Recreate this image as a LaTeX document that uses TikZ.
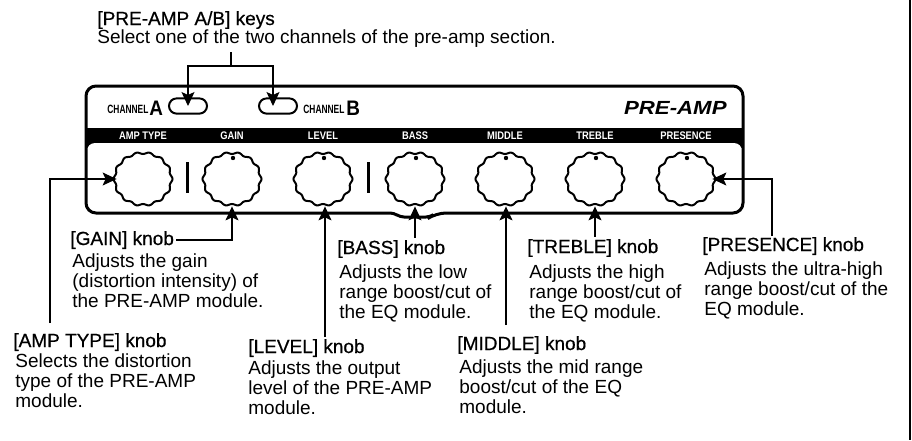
\documentclass[tikz,border=0pt]{standalone}
\usepackage{fontspec}
\setmainfont{Liberation Sans}
\newfontfamily\headfont[FakeBold=0.6]{Liberation Sans}
\usetikzlibrary{positioning,calc,arrows.meta}

\begin{document}
\begin{tikzpicture}[x=0.5pt,y=-0.5pt,
    hd/.style={font=\headfont\fontsize{9.5}{10}\selectfont,inner sep=1pt,anchor=base west},
    desc/.style={font=\fontsize{9.5}{10}\selectfont,align=left,inner sep=0pt},
    arr/.style={line width=0.6pt,-{Stealth[length=7pt,width=6.5pt,inset=1.5pt]}},
    knob/.style={minimum width=26pt,minimum height=27pt,inner sep=0pt},
    tag/.style={text=white,font=\bfseries\fontsize{5.5}{6}\selectfont,inner sep=0pt},
    key/.style={draw,line width=1pt,rounded corners=3.8pt,minimum width=19pt,minimum height=7.6pt,inner sep=0pt}]

\useasboundingbox (0,0) rectangle (912,440);
\draw[line width=0.6pt] (910,0) -- (910,440);

% panel
\fill (86,128) rectangle (743,148);
\fill[white,rounded corners=4pt] (87,143) rectangle (742,212);
\draw[line width=1.5pt,rounded corners=5pt] (86,86) -- (743,86) -- (743,213) -- (436,213)
    [rounded corners=2pt] -- (430,217) -- (400,217) -- (394,213)
    [rounded corners=5pt] -- (86,213) -- cycle;
\draw[line width=1.5pt] (187,162) -- (187,193) (368,162) -- (368,193);

\foreach \nm/\cx/\lbl in {amptype/143/AMP TYPE,gain/232/GAIN,level/323/LEVEL,bass/415/BASS,
    middle/505/MIDDLE,treble/595/TREBLE,presence/686/PRESENCE}{
  \node[knob] (\nm) at (\cx,179) {};
  \draw[line width=1pt,shift={(\cx,179)}] plot[smooth cycle,domain=0:357,samples=120]
    ({(28.5+1*cos(14*\x))*cos(\x)},{(26+1*cos(14*\x))*sin(\x)});
  \node[tag] at (\cx,136) {\scalebox{0.85}[1]{\lbl}};
}
\foreach \nm in {gain,level,bass,middle,treble,presence}
  \fill ([shift={(1,-21)}]\nm.center) circle (2.2);

% channel keys
\node[anchor=base west,inner sep=0pt,font=\bfseries\fontsize{6}{6}\selectfont] (chA) at (107,113) {\scalebox{0.7}[1]{CHANNEL}};
\node[anchor=base west,inner sep=0pt,font=\bfseries\fontsize{10.5}{10.5}\selectfont] (chAbig) at (149,115) {\scalebox{0.9}[1]{A}};
\node[key] (keyA) at (188,106) {};
\node[key] (keyB) at (278,106) {};
\node[anchor=base west,inner sep=0pt,font=\bfseries\fontsize{6}{6}\selectfont] (chB) at (303,113) {\scalebox{0.7}[1]{CHANNEL}};
\node[anchor=base west,inner sep=0pt,font=\bfseries\fontsize{10.5}{10.5}\selectfont] (chBbig) at (346,115) {\scalebox{0.9}[1]{B}};
\node[anchor=base east,inner sep=0pt,font=\bfseries\itshape\fontsize{9.5}{9.5}\selectfont] (title) at (727,114) {\scalebox{1.17}[1]{PRE-AMP}};

% annotations
\node[hd] (keyshd) at (95,25) {[PRE-AMP A/B] keys};
\node[desc,anchor=base west] (keysdesc) at (97,43) {Select one of the two channels of the pre-amp section.};
\coordinate (keytap) at (231,52);
\coordinate (keyjoin) at (231,66);
\draw[line width=0.6pt] (keytap) -- (keyjoin);
\draw[arr] (keyjoin) -| (keyA.center);
\draw[arr] (keyjoin) -| ([xshift=-2.5pt]keyB.center);

\node[hd] (gainhd) at (68,245) {[GAIN] knob};
\node[desc,below right=1.1pt and 2pt of gainhd.south west] {Adjusts the gain\\(distortion intensity) of\\the PRE-AMP module.};
\draw[arr] (gainhd.east) -| (gain.south);

\node[hd] (amptypehd) at (11,347) {[AMP TYPE] knob};
\node[desc,below right=0pt and 2pt of amptypehd.south west] {Selects the distortion\\type of the PRE-AMP\\module.};
\coordinate (ampline) at (50,323);
\draw[arr] (ampline) |- (amptype.west);

\node[hd] (levelhd) at (246,353) {[LEVEL] knob};
\node[desc,below right=0.6pt and 1pt of levelhd.south west] {Adjusts the output\\level of the PRE-AMP\\module.};
\coordinate (levelline) at (325,337);
\draw[arr] (levelline) -- (levelline |- level.south);

\node[hd] (basshd) at (335,254) {[BASS] knob};
\node[desc,below right=2.1pt and 2pt of basshd.south west] {Adjusts the low\\range boost/cut of\\the EQ module.};
\draw[arr] (basshd.north -| bass.south) -- (bass.south);

\node[hd] (middlehd) at (455,350) {[MIDDLE] knob};
\node[desc,below right=1.6pt and 2pt of middlehd.south west] {Adjusts the mid range\\boost/cut of the EQ\\module.};
\coordinate (middleline) at (506,325);
\draw[arr] (middleline) -- (middleline |- middle.south);

\node[hd] (treblehd) at (525,253) {[TREBLE] knob};
\node[desc,below right=2.6pt and 2pt of treblehd.south west] {Adjusts the high\\range boost/cut of\\the EQ module.};
\draw[arr] (treblehd.north -| treble.south) -- (treble.south);

\node[hd] (presencehd) at (700,251) {[PRESENCE] knob};
\node[desc,below right=2.1pt and 2pt of presencehd.south west] {Adjusts the ultra-high\\range boost/cut of the\\EQ module.};
\coordinate (presline) at (772,236);
\draw[arr] (presline) |- (presence.east);

\end{tikzpicture}
\end{document}
